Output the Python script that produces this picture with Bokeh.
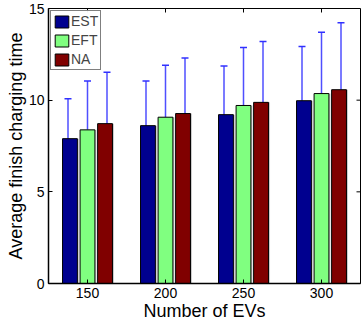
import math
from bokeh.plotting import figure
from bokeh.models import (ColumnDataSource, FactorRange, Whisker, Range1d,
                          FixedTicker, Legend, LegendItem)
from bokeh.transform import dodge
from bokeh.embed import file_html
from bokeh.resources import INLINE

categories = ["150", "200", "250", "300"]
series = ["EST", "EFT", "NA"]
est_mean = [7.90, 8.61, 9.21, 9.97]
eft_mean = [8.38, 9.07, 9.71, 10.36]
na_mean = [8.72, 9.27, 9.88, 10.57]
est_std = [2.18, 2.44, 2.66, 2.96]
eft_std = [2.67, 2.84, 3.16, 3.35]
na_std = [2.80, 3.03, 3.32, 3.65]
colors = ["#00008f", "#80ff80", "#800000"]
y_ticks = [0, 5, 10, 15]
y_max = 15

data = dict(cat=categories)
for name, m, s in zip(series, [est_mean, eft_mean, na_mean], [est_std, eft_std, na_std]):
    data[name] = m
    data[name + "_lo"] = [a - b for a, b in zip(m, s)]
    data[name + "_hi"] = [a + b for a, b in zip(m, s)]
src = ColumnDataSource(data)

FONT = "Liberation Sans"
p = figure(x_range=FactorRange(*categories, range_padding=0), y_range=Range1d(0, y_max),
           frame_width=312, frame_height=275,
           min_border_left=48, min_border_right=1, min_border_top=8, min_border_bottom=39,
           output_backend="svg", toolbar_location=None)
p.x_range.range_padding = 0

bar_offsets = [-0.225, 0.0, 0.225]
err_offsets = [-0.25, 0.0, 0.25]
renderers = []
for name, c, bo, eo in zip(series, colors, bar_offsets, err_offsets):
    p.vbar(x=dodge("cat", bo + 0.02, range=p.x_range), top=name, width=0.19, source=src,
           fill_color="#cccccc", line_color=None, bottom=0)
    r = p.vbar(x=dodge("cat", bo, range=p.x_range), top=name, width=0.19, source=src,
               fill_color=c, line_color="black", line_width=1)
    renderers.append(r)
    w = Whisker(base=dodge("cat", eo, range=p.x_range), upper=name + "_hi", lower=name + "_lo",
                source=src, line_color="#3030ff", line_width=1.5, line_alpha=0.85)
    for head in (w.upper_head, w.lower_head):
        head.size = 7
        head.line_color = "#3030ff"
        head.line_width = 1.5
    p.add_layout(w)

# box ticks on the top and right edges (inward, 4px)
top_src = ColumnDataSource(dict(x=categories, y=[y_max] * len(categories)))
p.ray(x="x", y="y", length=4, length_units="screen", angle=-math.pi / 2,
      line_color="black", line_width=1, source=top_src)
right_src = ColumnDataSource(dict(x=[categories[-1]] * len(y_ticks), y=y_ticks))
p.ray(x=dodge("x", 0.5, range=p.x_range), y="y", length=4, length_units="screen",
      angle=math.pi, line_color="black", line_width=1, source=right_src)

p.xgrid.visible = False
p.ygrid.visible = False
p.outline_line_color = "black"
p.outline_line_width = 1

p.yaxis.ticker = FixedTicker(ticks=y_ticks)
for ax in [p.xaxis[0], p.yaxis[0]]:
    ax.major_tick_in = 4
    ax.major_tick_out = 0
    ax.minor_tick_in = 0
    ax.minor_tick_out = 0
    ax.axis_line_color = "black"
    ax.axis_line_width = 1.5
    ax.major_label_text_font = FONT
    ax.major_label_text_font_size = "14px"
    ax.major_label_text_color = "black"
    ax.axis_label_text_font = FONT
    ax.axis_label_text_font_size = "18px"
    ax.axis_label_text_font_style = "normal"
    ax.axis_label_text_color = "black"
    ax.major_label_standoff = 4
    ax.axis_label_standoff = 0
p.xaxis.axis_label = "Number of EVs"
p.yaxis.axis_label = "Average finish charging time"

legend = Legend(items=[LegendItem(label=n, renderers=[r]) for n, r in zip(series, renderers)],
                location="top_left", label_text_font=FONT, label_text_font_size="14px",
                border_line_color="black", border_line_width=1, margin=2, padding=2,
                spacing=3, glyph_width=17, glyph_height=15, label_standoff=1,
                label_height=15)
p.add_layout(legend)

out = file_html(p, INLINE)
open("out.html", "w").write(out)
